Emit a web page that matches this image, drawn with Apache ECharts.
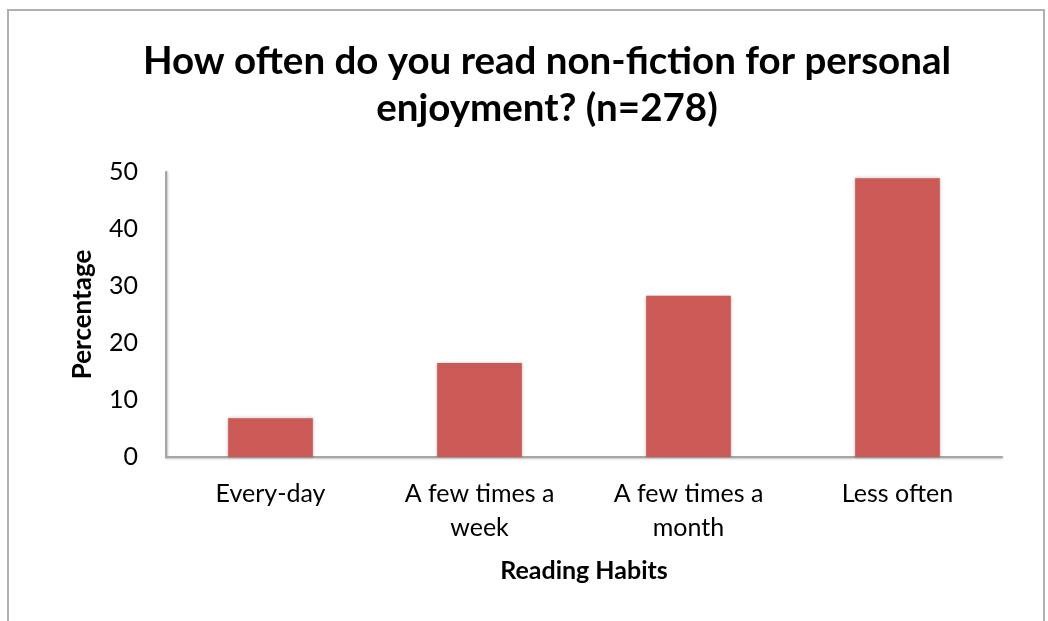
<!DOCTYPE html>
<html>
<head>
<meta charset="utf-8">
<script src="https://cdn.jsdelivr.net/npm/echarts@6/dist/echarts.min.js"></script>
<style>
  html, body { margin: 0; padding: 0; background: #fff; }
  #chart { width: 1048px; height: 621px; }
</style>
</head>
<body>
<div id="chart"></div>
<script>
// reading habits survey
var categories = ['Every-day', 'A few times a\nweek', 'A few times a\nmonth', 'Less often']
var percentages = [6.8, 16.5, 28.3, 48.9]
var yTicks = [0, 10, 20, 30, 40, 50]

var font = 'Lato, "Open Sans", sans-serif'
var chart = echarts.init(document.getElementById('chart'))

chart.setOption({
  animation: false,
  title: {
    text: 'How often do you read non-fiction for personal\nenjoyment? (n=278)',
    left: 542,
    textAlign: 'center',
    top: 33,
    textStyle: {
      fontFamily: font,
      fontWeight: 'bold',
      fontSize: 38.5,
      lineHeight: 47,
      color: '#000'
    }
  },
  graphic: [{
    type: 'rect',
    shape: { x: 8, y: 10, width: 1036, height: 640 },
    style: { fill: 'none', stroke: '#b0b0b0', lineWidth: 2 },
    silent: true
  }],
  grid: {
    left: 166,
    right: 46,
    top: 172,
    bottom: 164
  },
  xAxis: {
    type: 'category',
    data: categories,
    name: 'Reading Habits',
    nameLocation: 'middle',
    nameGap: 101,
    nameTextStyle: {
      fontFamily: font,
      fontWeight: 'bold',
      fontSize: 25,
      color: '#000'
    },
    axisLine: {
      lineStyle: { color: '#a6a6a6', width: 2, shadowColor: 'rgba(0,0,0,0.25)', shadowBlur: 2, shadowOffsetY: 1 }
    },
    axisTick: { show: false },
    axisLabel: {
      fontFamily: font,
      fontSize: 25,
      color: '#000',
      margin: 20,
      lineHeight: 34
    }
  },
  yAxis: {
    type: 'value',
    min: yTicks[0],
    max: yTicks[yTicks.length - 1],
    interval: 10,
    name: 'Percentage',
    nameLocation: 'middle',
    nameGap: 70,
    nameTextStyle: {
      fontFamily: font,
      fontWeight: 'bold',
      fontSize: 26,
      color: '#000'
    },
    axisLine: {
      show: true,
      lineStyle: { color: '#a6a6a6', width: 2, shadowColor: 'rgba(0,0,0,0.25)', shadowBlur: 2, shadowOffsetX: 1 }
    },
    axisTick: { show: false },
    splitLine: { show: false },
    axisLabel: {
      fontFamily: font,
      fontSize: 25,
      color: '#000',
      margin: 28
    }
  },
  series: [{
    type: 'bar',
    data: percentages,
    barWidth: '40.5%',
    itemStyle: {
      color: '#cb5a57',
      shadowColor: 'rgba(0,0,0,0.3)',
      shadowBlur: 3
    }
  }]
})
</script>
</body>
</html>
